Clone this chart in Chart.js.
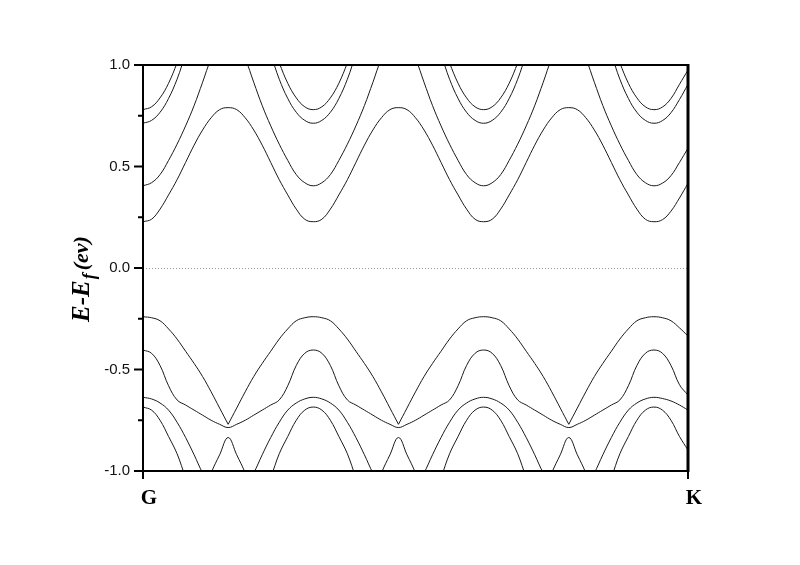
<!DOCTYPE html>
<html>
<head>
<meta charset="utf-8">
<script src="https://cdn.jsdelivr.net/npm/chart.js@4.4.1/dist/chart.umd.min.js"></script>
<style>
  html, body { margin: 0; padding: 0; background: #fff; }
</style>
</head>
<body>
<canvas id="bands" width="800" height="565"></canvas>
<script>
// k-path sample index, G = 0 ... K = 64
var kPath = [0,1,2,3,4,5,6,7,8,9,10,11,12,13,14,15,16,17,18,19,20,21,22,23,24,25,26,27,28,29,30,
  31,32,33,34,35,36,37,38,39,40,41,42,43,44,45,46,47,48,49,50,51,52,53,54,55,56,57,58,59,60,61,62,63,64];
var kLabels = {0: "G", 64: "K"};
var yTicks = [-1.0, -0.5, 0.0, 0.5, 1.0];

// conduction bands (eV)
var cond1 = [0.228,0.24,0.29,0.36,0.435,0.52,0.605,0.68,0.74,0.78,0.79,
  0.78,0.74,0.68,0.605,0.52,0.435,0.36,0.29,0.24,0.228,
  0.24,0.29,0.36,0.435,0.52,0.605,0.68,0.74,0.78,0.79,
  0.78,0.74,0.68,0.605,0.52,0.435,0.36,0.29,0.24,0.228,
  0.24,0.29,0.36,0.435,0.52,0.605,0.68,0.74,0.78,0.79,
  0.78,0.74,0.68,0.605,0.52,0.435,0.36,0.29,0.24,0.228,
  0.238,0.28,0.345,0.417];
var cond2 = [0.405,0.42,0.46,0.53,0.61,0.70,0.80,0.915,1.03,1.10,1.13,
  1.10,1.03,0.915,0.80,0.70,0.61,0.53,0.46,0.42,0.405,
  0.42,0.46,0.53,0.61,0.70,0.80,0.915,1.03,1.10,1.13,
  1.10,1.03,0.915,0.80,0.70,0.61,0.53,0.46,0.42,0.405,
  0.42,0.46,0.53,0.61,0.70,0.80,0.915,1.03,1.10,1.13,
  1.10,1.03,0.915,0.80,0.70,0.61,0.53,0.46,0.42,0.405,
  0.418,0.455,0.52,0.59];
var cond3 = [0.713,0.727,0.767,0.835,0.93,1.05,1.15,1.22,1.27,1.30,1.31,
  1.30,1.27,1.22,1.15,1.05,0.93,0.835,0.767,0.727,0.713,
  0.727,0.767,0.835,0.93,1.05,1.15,1.22,1.27,1.30,1.31,
  1.30,1.27,1.22,1.15,1.05,0.93,0.835,0.767,0.727,0.713,
  0.727,0.767,0.835,0.93,1.05,1.15,1.22,1.27,1.30,1.31,
  1.30,1.27,1.22,1.15,1.05,0.93,0.835,0.767,0.727,0.713,
  0.726,0.765,0.83,0.905];
var cond4 = [0.78,0.794,0.838,0.91,1.01,1.12,1.22,1.29,1.34,1.37,1.38,
  1.37,1.34,1.29,1.22,1.12,1.01,0.91,0.838,0.794,0.78,
  0.794,0.838,0.91,1.01,1.12,1.22,1.29,1.34,1.37,1.38,
  1.37,1.34,1.29,1.22,1.12,1.01,0.91,0.838,0.794,0.78,
  0.794,0.838,0.91,1.01,1.12,1.22,1.29,1.34,1.37,1.38,
  1.37,1.34,1.29,1.22,1.12,1.01,0.91,0.838,0.794,0.78,
  0.793,0.835,0.905,0.975];

// valence bands (eV)
var val1 = [-0.24,-0.245,-0.26,-0.30,-0.35,-0.41,-0.47,-0.535,-0.61,-0.69,-0.77,
  -0.69,-0.61,-0.535,-0.47,-0.41,-0.35,-0.30,-0.26,-0.245,-0.24,
  -0.245,-0.26,-0.30,-0.35,-0.41,-0.47,-0.535,-0.61,-0.69,-0.77,
  -0.69,-0.61,-0.535,-0.47,-0.41,-0.35,-0.30,-0.26,-0.245,-0.24,
  -0.245,-0.26,-0.30,-0.35,-0.41,-0.47,-0.535,-0.61,-0.69,-0.77,
  -0.69,-0.61,-0.535,-0.47,-0.41,-0.35,-0.30,-0.26,-0.245,-0.24,
  -0.245,-0.26,-0.295,-0.335];
var val2 = [-0.404,-0.42,-0.48,-0.58,-0.65,-0.675,-0.70,-0.725,-0.75,-0.77,-0.786,
  -0.77,-0.75,-0.725,-0.70,-0.675,-0.65,-0.58,-0.48,-0.42,-0.404,
  -0.42,-0.48,-0.58,-0.65,-0.675,-0.70,-0.725,-0.75,-0.77,-0.786,
  -0.77,-0.75,-0.725,-0.70,-0.675,-0.65,-0.58,-0.48,-0.42,-0.404,
  -0.42,-0.48,-0.58,-0.65,-0.675,-0.70,-0.725,-0.75,-0.77,-0.786,
  -0.77,-0.75,-0.725,-0.70,-0.675,-0.65,-0.58,-0.48,-0.42,-0.404,
  -0.42,-0.48,-0.575,-0.626];
var val3 = [-0.637,-0.645,-0.665,-0.70,-0.76,-0.835,-0.92,-1.01,-1.08,-1.12,-1.14,
  -1.12,-1.08,-1.01,-0.92,-0.835,-0.76,-0.70,-0.665,-0.645,-0.637,
  -0.645,-0.665,-0.70,-0.76,-0.835,-0.92,-1.01,-1.08,-1.12,-1.14,
  -1.12,-1.08,-1.01,-0.92,-0.835,-0.76,-0.70,-0.665,-0.645,-0.637,
  -0.645,-0.665,-0.70,-0.76,-0.835,-0.92,-1.01,-1.08,-1.12,-1.14,
  -1.12,-1.08,-1.01,-0.92,-0.835,-0.76,-0.70,-0.665,-0.645,-0.637,
  -0.643,-0.655,-0.675,-0.70];
var val4 = [-0.685,-0.70,-0.75,-0.83,-0.915,-1.03,-1.12,-1.13,-1.01,-0.92,-0.835,
  -0.92,-1.01,-1.13,-1.12,-1.03,-0.915,-0.83,-0.75,-0.70,-0.685,
  -0.70,-0.75,-0.83,-0.915,-1.03,-1.12,-1.13,-1.01,-0.92,-0.835,
  -0.92,-1.01,-1.13,-1.12,-1.03,-0.915,-0.83,-0.75,-0.70,-0.685,
  -0.70,-0.75,-0.83,-0.915,-1.03,-1.12,-1.13,-1.01,-0.92,-0.835,
  -0.92,-1.01,-1.13,-1.12,-1.03,-0.915,-0.83,-0.75,-0.70,-0.685,
  -0.70,-0.75,-0.83,-0.897];

// the top valence band has cusps at these k indices
var cuspIdx = [10, 30, 50];

function toPoints(vals, from, to) {
  var pts = [];
  for (var i = from; i <= to; i++) pts.push({x: kPath[i], y: vals[i]});
  return pts;
}

function band(pts) {
  return {
    data: pts,
    borderColor: "#1a1a1a",
    borderWidth: 1,
    pointRadius: 0,
    tension: 0.4,
    fill: false
  };
}

var datasets = [];
[cond1, cond2, cond3, cond4, val2, val3, val4].forEach(function(v) {
  datasets.push(band(toPoints(v, 0, kPath.length - 1)));
});
// split the top valence band at its cusps so they stay sharp
var cuts = [0].concat(cuspIdx).concat([kPath.length - 1]);
for (var c = 0; c < cuts.length - 1; c++) {
  datasets.push(band(toPoints(val1, cuts[c], cuts[c + 1])));
}

// frame, ticks, fermi line and axis title
var framePlugin = {
  id: "frame",
  beforeDatasetsDraw: function(chart) {
    var ctx = chart.ctx, a = chart.chartArea, y0 = chart.scales.y.getPixelForValue(0);
    ctx.save();
    ctx.strokeStyle = "#9a9a9a";
    ctx.lineWidth = 1;
    ctx.setLineDash([1, 2]);
    ctx.beginPath();
    ctx.moveTo(a.left, Math.round(y0) + 0.5);
    ctx.lineTo(a.right, Math.round(y0) + 0.5);
    ctx.stroke();
    ctx.restore();
  },
  afterDraw: function(chart) {
    var ctx = chart.ctx, a = chart.chartArea;
    var ys = chart.scales.y, xs = chart.scales.x;
    ctx.save();
    ctx.strokeStyle = "#000";
    ctx.lineWidth = 2;
    ctx.beginPath();
    ctx.moveTo(a.left, a.top); ctx.lineTo(a.right, a.top);
    ctx.moveTo(a.left, a.bottom); ctx.lineTo(a.right, a.bottom);
    ctx.moveTo(a.left, a.top - 1); ctx.lineTo(a.left, a.bottom + 1);
    ctx.stroke();
    ctx.lineWidth = 3;
    ctx.beginPath();
    ctx.moveTo(a.right, a.top - 1); ctx.lineTo(a.right, a.bottom + 1);
    ctx.stroke();

    // y ticks, major and minor
    ctx.lineWidth = 2;
    ctx.beginPath();
    for (var v = -1; v <= 1.001; v += 0.25) {
      var py = ys.getPixelForValue(v);
      var major = Math.abs(v * 2 - Math.round(v * 2)) < 0.01;
      ctx.moveTo(a.left, py);
      ctx.lineTo(a.left - (major ? 9 : 5), py);
    }
    // x ticks at G and K
    [0, 64].forEach(function(kv) {
      var px = xs.getPixelForValue(kv);
      ctx.moveTo(px, a.bottom);
      ctx.lineTo(px, a.bottom + 8);
    });
    ctx.stroke();

    // y axis title E-E_f(ev)
    ctx.fillStyle = "#000";
    ctx.textBaseline = "alphabetic";
    ctx.translate(89, 322);
    ctx.rotate(-Math.PI / 2);
    ctx.font = "italic bold 25px 'Liberation Serif'";
    ctx.fillText("E-E", 0, 0);
    var w = ctx.measureText("E-E").width;
    ctx.font = "italic bold 18px 'Liberation Serif'";
    ctx.fillText("f", w + 1, 6);
    w += ctx.measureText("f").width + 4;
    ctx.font = "italic bold 22px 'Liberation Serif'";
    ctx.fillText("(ev)", w, -1);
    ctx.restore();
  }
};

var chart = new Chart("bands", {
  type: "line",
  data: { datasets: datasets },
  options: {
    responsive: false,
    devicePixelRatio: 1,
    animation: false,
    layout: { padding: { top: 65, right: 112, left: 0, bottom: 0 } },
    plugins: { legend: { display: false }, tooltip: { enabled: false } },
    scales: {
      x: {
        type: "linear",
        min: 0,
        max: 64,
        afterFit: function(s) { s.height = 94; },
        afterBuildTicks: function(s) {
          s.ticks = Object.keys(kLabels).map(function(k) { return {value: Number(k)}; });
        },
        grid: { display: false, drawTicks: false },
        border: { display: false },
        ticks: {
          autoSkip: false,
          maxRotation: 0,
          padding: 15,
          labelOffset: 6,
          color: "#000",
          font: { family: "'Liberation Serif'", size: 21, weight: "bold" },
          callback: function(v) { return kLabels[v] || ""; }
        }
      },
      y: {
        min: -1,
        max: 1,
        afterFit: function(s) { s.width = 143; },
        afterBuildTicks: function(s) {
          s.ticks = yTicks.map(function(t) { return {value: t}; });
        },
        grid: { display: false, drawTicks: false },
        border: { display: false },
        ticks: {
          padding: 13,
          color: "#111",
          font: { family: "'Liberation Sans'", size: 15 },
          callback: function(v) { return v.toFixed(1); }
        }
      }
    }
  },
  plugins: [framePlugin]
});
</script>
</body>
</html>
